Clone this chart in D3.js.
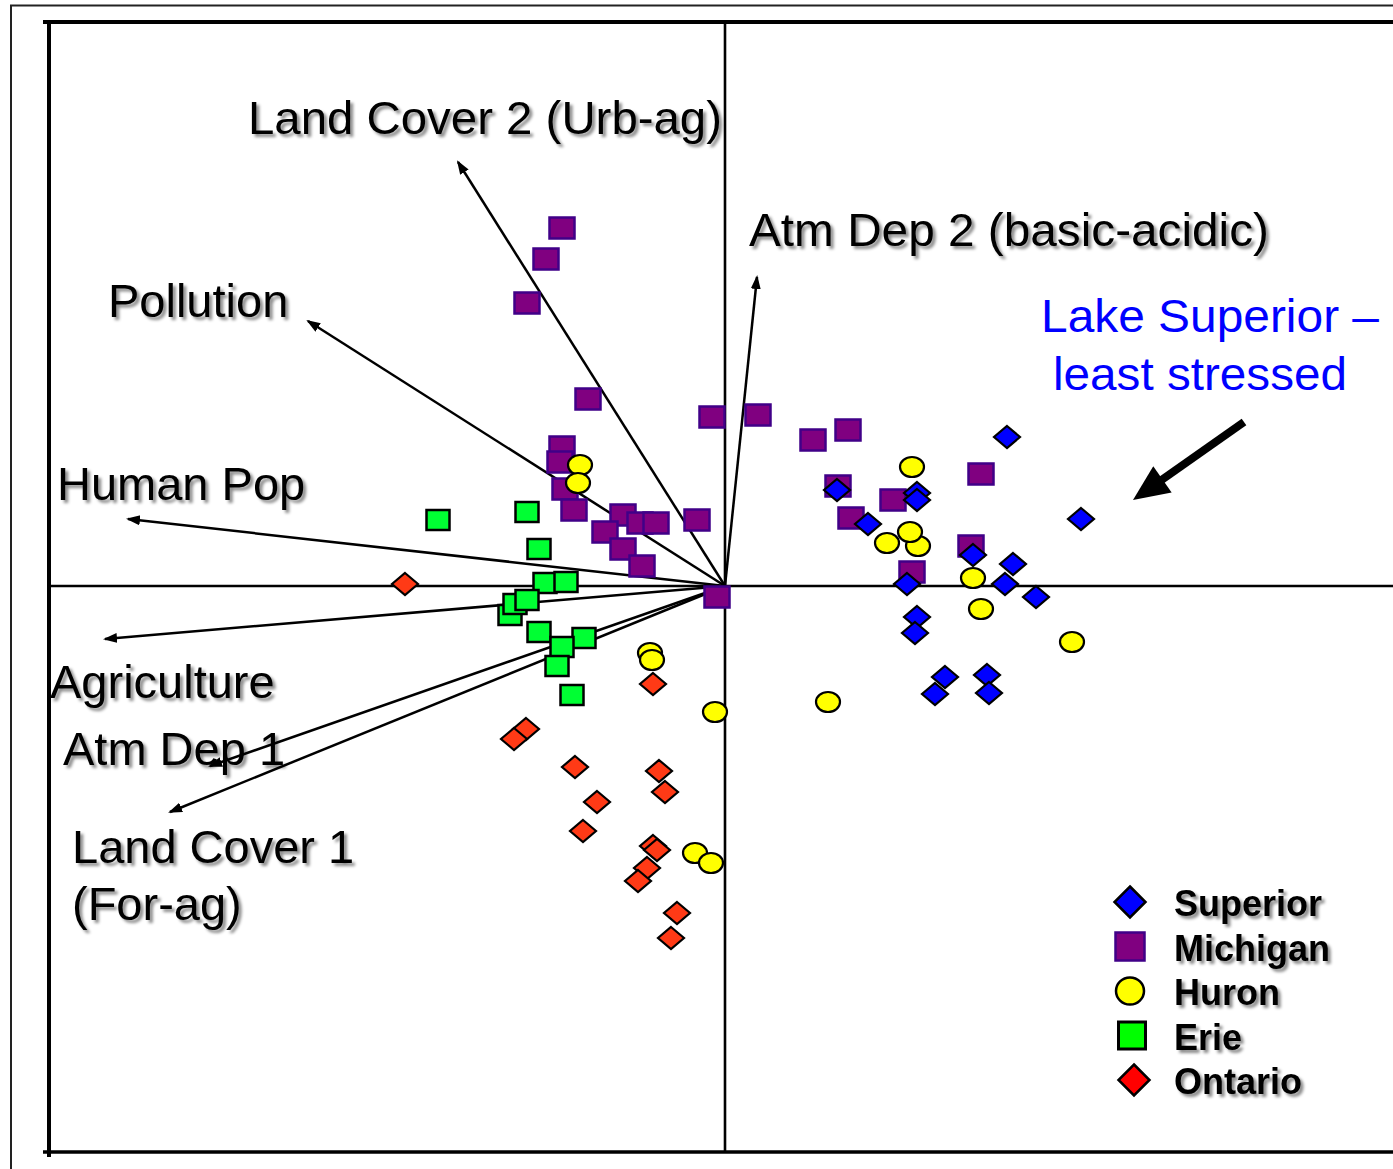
<!DOCTYPE html>
<html>
<head>
<meta charset="utf-8">
<script src="https://cdn.jsdelivr.net/npm/d3@7/dist/d3.min.js"></script>
<style>
    body { margin: 0; background: #fff; }
    svg { display: block; }
    .lbl { font-family: "Liberation Sans", Arial, sans-serif; font-size: 47px; fill: #000; }
    .note { font-family: "Liberation Sans", Arial, sans-serif; font-size: 47px; fill: #0000ff; }
    .legend-text { font-family: "Liberation Sans", Arial, sans-serif; font-size: 36px; font-weight: bold; fill: #000; }
</style>
</head>
<body>
<div id="chart"></div>
<script>

// site scores (axis 1, axis 2)
const superior = [
    [1.41, 0.745], [0.56, 0.48], [0.96, 0.465], [0.96, 0.43], [0.715, 0.31],
    [1.78, 0.335], [1.24, 0.155], [1.44, 0.11], [0.91, 0.01], [1.40, 0.01],
    [1.555, -0.055], [0.96, -0.155], [0.95, -0.235], [1.10, -0.455], [1.05, -0.54],
    [1.31, -0.445], [1.32, -0.535]
];
const michigan = [
    [-0.815, 1.79], [-0.895, 1.635], [-0.99, 1.415], [-0.685, 0.935], [-0.065, 0.845],
    [0.165, 0.855], [0.44, 0.73], [0.615, 0.78], [0.565, 0.50], [0.84, 0.43],
    [0.63, 0.34], [1.28, 0.56], [1.23, 0.20], [0.935, 0.07], [-0.815, 0.695],
    [-0.825, 0.62], [-0.80, 0.485], [-0.755, 0.38], [-0.51, 0.355], [-0.425, 0.315],
    [-0.345, 0.315], [-0.60, 0.27], [-0.51, 0.185], [-0.415, 0.10], [-0.14, 0.33],
    [-0.04, -0.055]
];
const huron = [
    [-0.725, 0.605], [-0.735, 0.515], [0.935, 0.595], [0.965, 0.20], [0.925, 0.27],
    [0.81, 0.215], [1.24, 0.04], [1.28, -0.115], [1.735, -0.28], [0.515, -0.58],
    [-0.05, -0.63], [-0.375, -0.335], [-0.365, -0.37], [-0.15, -1.335], [-0.07, -1.385]
];
const erie = [
    [-1.435, 0.33], [-0.99, 0.37], [-0.93, 0.185], [-0.90, 0.015], [-0.795, 0.02],
    [-1.075, -0.145], [-1.05, -0.09], [-0.99, -0.07], [-0.93, -0.23], [-0.705, -0.26],
    [-0.815, -0.305], [-0.84, -0.40], [-0.765, -0.545]
];
const ontario = [
    [-1.60, 0.01], [-0.36, -0.49], [-0.995, -0.715], [-1.055, -0.765], [-0.75, -0.905],
    [-0.33, -0.925], [-0.30, -1.03], [-0.64, -1.08], [-0.71, -1.225], [-0.36, -1.30],
    [-0.34, -1.32], [-0.39, -1.41], [-0.435, -1.475], [-0.24, -1.635], [-0.27, -1.76]
];

// stressor vectors (tips)
const vectorNames = ['Land Cover 2', 'Pollution', 'Human Pop', 'Agriculture', 'Atm Dep 1', 'Land Cover 1', 'Atm Dep 2'];
const vectorTips = [
    [-1.335, 2.12], [-2.085, 1.325], [-2.985, 0.335], [-3.10, -0.265],
    [-2.575, -0.90], [-2.775, -1.13], [0.16, 1.545]
];

// legend order
const lakeNames = ['Superior', 'Michigan', 'Huron', 'Erie', 'Ontario'];

// callout arrow pointing at Superior (tail, tip)
const calloutArrow = [[2.595, 0.82], [2.04, 0.43]];


class BiplotVis {
    constructor(parentElement) {
        this.parentElement = parentElement;
        this.initVis();
    }

    initVis() {
        let vis = this;

        vis.width = 1393;
        vis.height = 1169;

        vis.svg = d3
            .select('#' + vis.parentElement)
            .append('svg')
            .attr('width', vis.width)
            .attr('height', vis.height);

        let defs = vis.svg.append('defs');

        // soft grey shadow behind the labels
        defs.append('filter')
            .attr('id', 'shadow')
            .attr('x', '-5%').attr('y', '-20%')
            .attr('width', '115%').attr('height', '160%')
            .append('feDropShadow')
            .attr('dx', 3).attr('dy', 3)
            .attr('stdDeviation', 1.6)
            .attr('flood-color', '#000')
            .attr('flood-opacity', 0.45);

        defs.append('marker')
            .attr('id', 'head')
            .attr('markerUnits', 'userSpaceOnUse')
            .attr('markerWidth', 15).attr('markerHeight', 11)
            .attr('refX', 12).attr('refY', 5)
            .attr('orient', 'auto')
            .append('path')
            .attr('d', 'M0,0 L14,5 L0,10 Z')
            .attr('fill', '#000');

        // Scales
        vis.x = d3.scaleLinear().domain([-3.38, 3.38]).range([49, 1401]);
        vis.y = d3.scaleLinear().domain([-2.83, 2.82]).range([1152, 22]);

        vis.series = [
            { name: 'Michigan', data: michigan, shape: 'square', w: 25, h: 21, fill: '#800080', stroke: '#400088', sw: 2.5 },
            { name: 'Superior', data: superior, shape: 'diamond', w: 26, h: 22, fill: '#0000ff', stroke: '#000', sw: 2.2 },
            { name: 'Huron', data: huron, shape: 'circle', w: 24, h: 20, fill: '#ffff00', stroke: '#000', sw: 2.2 },
            { name: 'Erie', data: erie, shape: 'square', w: 23, h: 20, fill: '#00ff33', stroke: '#000', sw: 2.5 },
            { name: 'Ontario', data: ontario, shape: 'diamond', w: 26, h: 22, fill: '#ff3a16', stroke: '#000', sw: 2.2 }
        ];

        vis.legendStyle = {
            Superior: { shape: 'diamond', w: 31, h: 31, fill: '#0000ff', stroke: '#000', sw: 2.5, dx: 0 },
            Michigan: { shape: 'square', w: 29, h: 28, fill: '#800080', stroke: '#400088', sw: 2.5, dx: 0 },
            Huron: { shape: 'circle', w: 28, h: 27, fill: '#ffff00', stroke: '#000', sw: 2.5, dx: 0 },
            Erie: { shape: 'square', w: 27, h: 27, fill: '#00ff00', stroke: '#000', sw: 3, dx: 2 },
            Ontario: { shape: 'diamond', w: 31, h: 31, fill: '#ff0000', stroke: '#000', sw: 2.5, dx: 4 }
        };

        // label anchors; len = measured text width
        vis.labels = [
            { lines: ['Land Cover 2 (Urb-ag)'], x: 248, y: 134, len: 474 },
            { lines: ['Atm Dep 2 (basic-acidic)'], x: 749, y: 246, len: 520 },
            { lines: ['Pollution'], x: 108, y: 317 },
            { lines: ['Human Pop'], x: 57, y: 500 },
            { lines: ['Agriculture'], x: 50, y: 698 },
            { lines: ['Atm Dep 1'], x: 63, y: 765 },
            { lines: ['Land Cover 1', '(For-ag)'], x: 72, y: 863 }
        ];

        vis.updateVis();
    }

    symbol(sel, s) {
        if (s.shape === 'circle') {
            sel.append('ellipse').attr('rx', s.w / 2).attr('ry', s.h / 2);
        } else if (s.shape === 'square') {
            sel.append('rect')
                .attr('x', -s.w / 2).attr('y', -s.h / 2)
                .attr('width', s.w).attr('height', s.h);
        } else {
            let a = s.w / 2, b = s.h / 2;
            sel.append('path').attr('d', `M0,${-b} L${a},0 L0,${b} L${-a},0 Z`);
        }
        sel.attr('fill', s.fill).attr('stroke', s.stroke).attr('stroke-width', s.sw);
    }

    updateVis() {
        let vis = this;
        let [x0, x1] = vis.x.range();
        let [yb, yt] = vis.y.range();

        // outer page frame
        vis.svg.append('rect')
            .attr('x', 11).attr('y', 5.5)
            .attr('width', 1450).attr('height', 1250)
            .attr('fill', 'none').attr('stroke', '#222').attr('stroke-width', 2);

        // plot frame
        let frame = vis.svg.append('g').attr('stroke', '#000');
        frame.append('line').attr('x1', x0 - 6).attr('x2', vis.width + 10)
            .attr('y1', yt).attr('y2', yt).attr('stroke-width', 4);
        frame.append('line').attr('x1', x0 - 6).attr('x2', vis.width + 10)
            .attr('y1', yb).attr('y2', yb).attr('stroke-width', 3.5);
        frame.append('line').attr('x1', x0).attr('x2', x0)
            .attr('y1', yt - 2).attr('y2', yb + 5).attr('stroke-width', 4);

        // zero axes
        frame.append('line').attr('x1', x0).attr('x2', vis.width + 10)
            .attr('y1', vis.y(0)).attr('y2', vis.y(0)).attr('stroke-width', 2.6);
        frame.append('line').attr('x1', vis.x(0)).attr('x2', vis.x(0))
            .attr('y1', yt).attr('y2', yb).attr('stroke-width', 2.6);

        // stressor vectors
        vis.svg.append('g')
            .selectAll('.vector')
            .data(vectorTips)
            .enter()
            .append('line')
            .attr('class', 'vector')
            .attr('x1', vis.x(0)).attr('y1', vis.y(0))
            .attr('x2', d => vis.x(d[0])).attr('y2', d => vis.y(d[1]))
            .attr('stroke', '#000').attr('stroke-width', 2.5)
            .attr('marker-end', 'url(#head)');

        // site points
        vis.series.forEach(s => {
            vis.svg.append('g')
                .attr('class', 'series-' + s.name)
                .selectAll('g')
                .data(s.data)
                .enter()
                .append('g')
                .attr('transform', d => `translate(${vis.x(d[0])},${vis.y(d[1])})`)
                .each(function () { vis.symbol(d3.select(this), s); });
        });

        // vector labels
        let lbl = vis.svg.append('g').attr('filter', 'url(#shadow)');
        vis.labels.forEach(l => {
            l.lines.forEach((t, i) => {
                let txt = lbl.append('text')
                    .attr('class', 'lbl')
                    .attr('x', l.x).attr('y', l.y + i * 57)
                    .text(t);
                if (l.len) txt.attr('textLength', l.len).attr('lengthAdjust', 'spacingAndGlyphs');
            });
        });

        // Lake Superior note
        vis.svg.append('text').attr('class', 'note')
            .attr('x', 1041).attr('y', 332)
            .attr('textLength', 338).attr('lengthAdjust', 'spacingAndGlyphs')
            .text('Lake Superior \u2013');
        vis.svg.append('text').attr('class', 'note')
            .attr('x', 1053).attr('y', 390)
            .attr('textLength', 294).attr('lengthAdjust', 'spacingAndGlyphs')
            .text('least stressed');

        let [tail, tip] = calloutArrow.map(d => [vis.x(d[0]), vis.y(d[1])]);
        let len = Math.hypot(tip[0] - tail[0], tip[1] - tail[1]);
        let ux = (tip[0] - tail[0]) / len, uy = (tip[1] - tail[1]) / len;
        let headL = 36, headW = 16;
        let base = [tip[0] - ux * headL, tip[1] - uy * headL];
        vis.svg.append('line')
            .attr('x1', tail[0]).attr('y1', tail[1])
            .attr('x2', base[0] + ux * 2).attr('y2', base[1] + uy * 2)
            .attr('stroke', '#000').attr('stroke-width', 8);
        vis.svg.append('path')
            .attr('d', `M${tip[0]},${tip[1]} L${base[0] - uy * headW},${base[1] + ux * headW} L${base[0] + uy * headW},${base[1] - ux * headW} Z`)
            .attr('fill', '#000');

        // legend
        let legend = vis.svg.append('g').attr('class', 'legend');
        lakeNames.forEach((name, i) => {
            let st = vis.legendStyle[name];
            let cy = 902 + i * 44.5;
            let g = legend.append('g').attr('transform', `translate(${1130 + st.dx},${cy})`);
            vis.symbol(g, st);
            legend.append('text')
                .attr('class', 'legend-text')
                .attr('filter', 'url(#shadow)')
                .attr('x', 1174).attr('y', cy + 14)
                .text(name);
        });
    }
}

new BiplotVis('chart');
</script>
</body>
</html>
